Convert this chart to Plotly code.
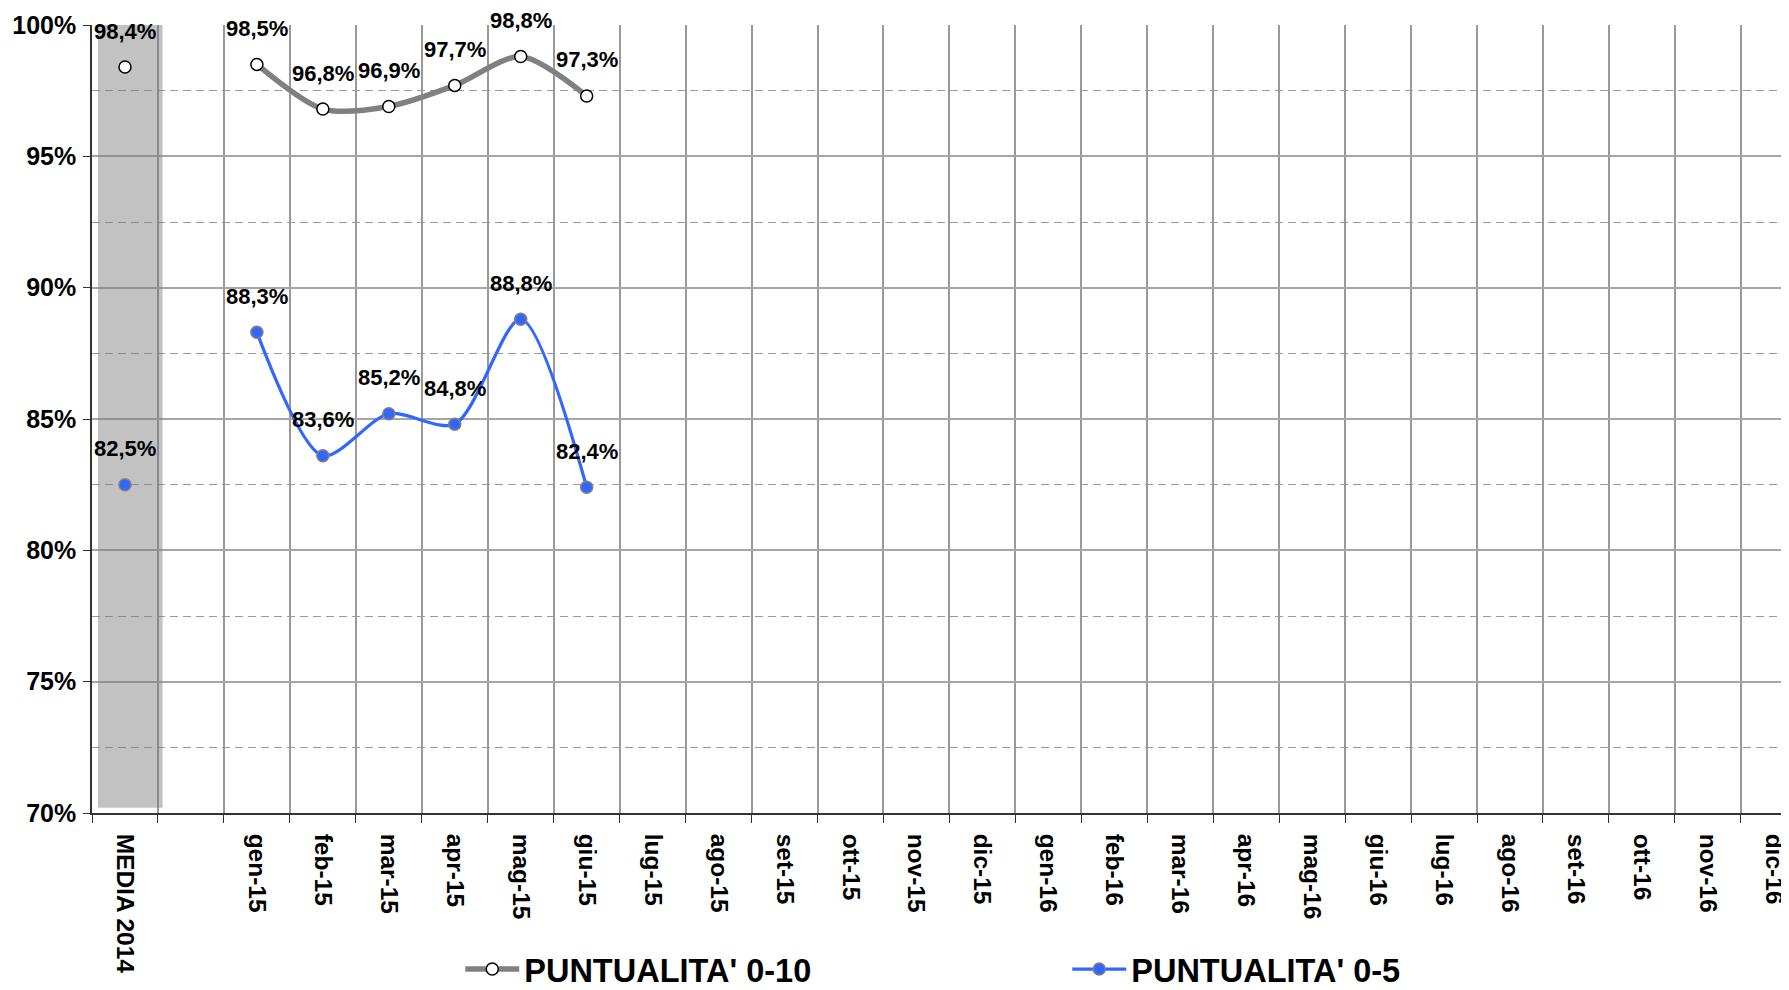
import plotly.graph_objects as go

# ---- data ----
categories = ["MEDIA 2014", " ",
              "gen-15", "feb-15", "mar-15", "apr-15", "mag-15", "giu-15",
              "lug-15", "ago-15", "set-15", "ott-15", "nov-15", "dic-15",
              "gen-16", "feb-16", "mar-16", "apr-16", "mag-16", "giu-16",
              "lug-16", "ago-16", "set-16", "ott-16", "nov-16", "dic-16"]

data_x = ["MEDIA 2014", " ", "gen-15", "feb-15", "mar-15", "apr-15", "mag-15", "giu-15"]
puntualita_0_10 = [98.4, None, 98.5, 96.8, 96.9, 97.7, 98.8, 97.3]
puntualita_0_5 = [82.5, None, 88.3, 83.6, 85.2, 84.8, 88.8, 82.4]

band_x = ["MEDIA 2014"]
band_base = [70.2]
band_top = [100.0]

y_ticks = [70, 75, 80, 85, 90, 95, 100]
y_ticktext = ["70%", "75%", "80%", "85%", "90%", "95%", "100%"]

FONT = "Liberation Sans, Arial, sans-serif"

fig = go.Figure()

# grey background band for MEDIA 2014
fig.add_trace(go.Bar(
    x=band_x, y=[t - b for t, b in zip(band_top, band_base)], base=band_base,
    width=0.98, offset=-0.41,
    marker=dict(color="rgba(120,120,120,0.45)", line=dict(width=0)),
    showlegend=False, hoverinfo="skip"))

fig.add_trace(go.Scatter(
    x=data_x, y=puntualita_0_10, name="PUNTUALITA' 0-10",
    mode="lines+markers", connectgaps=False,
    line=dict(color="#808080", width=5.5, shape="spline", smoothing=0.8),
    marker=dict(symbol="circle", size=12, color="white",
                line=dict(color="black", width=1.5))))

fig.add_trace(go.Scatter(
    x=data_x, y=puntualita_0_5, name="PUNTUALITA' 0-5",
    mode="lines+markers", connectgaps=False,
    line=dict(color="#3366FF", width=3.2, shape="spline", smoothing=0.8),
    marker=dict(symbol="circle", size=12, color="#3366FF",
                line=dict(color="#808080", width=1.5))))

def fmt(v):
    return f"{v:.1f}".replace(".", ",") + "%"

annotations = []
for series in (puntualita_0_10, puntualita_0_5):
    for xc, v in zip(data_x, series):
        if v is None:
            continue
        annotations.append(dict(
            x=xc, y=v, xref="x", yref="y", text=fmt(v), showarrow=False,
            yshift=36, yanchor="middle",
            font=dict(family=FONT, size=22, color="black", weight="bold")))

fig.update_layout(
    width=1781, height=982,
    margin=dict(l=84, r=0, t=17, b=176.5, autoexpand=False),
    paper_bgcolor="white", plot_bgcolor="white",
    annotations=annotations,
    barmode="overlay",
    showlegend=True,
    legend=dict(
        orientation="h", x=0.217, xanchor="left", y=-0.1985, yanchor="middle",
        font=dict(family=FONT, size=32.5, color="black", weight="bold"),
        itemwidth=54, entrywidth=538, bgcolor="rgba(0,0,0,0)",
        traceorder="normal"),
    xaxis=dict(
        type="category", categoryorder="array", categoryarray=categories,
        range=[-0.5, 25.23], automargin=False,
        tickmode="array", tickvals=categories, ticktext=categories,
        tickson="boundaries",
        showgrid=True, gridcolor="#999999", gridwidth=1.5,
        showline=True, linecolor="#333333", linewidth=1.5,
        ticks="outside", ticklen=8, tickcolor="#333333", tickwidth=1.2,
        tickangle=90, ticklabelstandoff=14,
        tickfont=dict(family=FONT, size=24.5, color="black", weight="bold"),
        zeroline=False,
    ),
    yaxis=dict(
        range=[70, 100], automargin=False,
        tickmode="array", tickvals=y_ticks, ticktext=y_ticktext,
        showgrid=True, gridcolor="#A6A6A6", gridwidth=2,
        minor=dict(dtick=2.5, tick0=70, showgrid=True, gridcolor="#9A9A9A",
                   gridwidth=1, griddash="8px,5px", ticks=""),
        showline=True, linecolor="#333333", linewidth=1.5,
        ticks="outside", ticklen=7, tickcolor="#333333", tickwidth=1.2,
        ticklabelstandoff=2,
        tickfont=dict(family=FONT, size=25, color="black", weight="bold"),
        zeroline=False,
    ),
)

fig.write_html("out.html")
